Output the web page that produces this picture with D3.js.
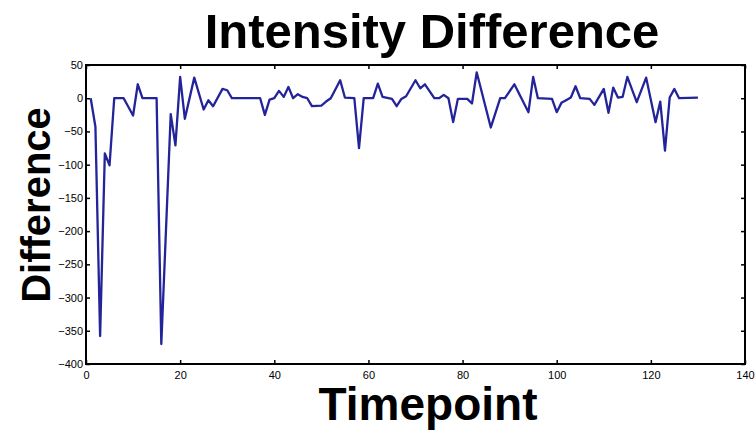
<!DOCTYPE html>
<meta charset="utf-8">
<style>

body {
  margin: 0;
  background: #fff;
  font-family: "Liberation Sans", Arial, Helvetica, sans-serif;
}

.line {
  fill: none;
  stroke: #23239a;
  stroke-width: 2.3px;
  stroke-linejoin: round;
}

.axis text {
  font-family: "Liberation Sans Narrow", "Liberation Sans", Arial, sans-serif;
  font-size: 11px;
  fill: #000;
}

.axis line {
  stroke: #000;
  stroke-width: 1.5px;
}

.axis path {
  display: none;
}

.label {
  font-weight: bold;
  fill: #000;
}

</style>
<body>
<script src="https://d3js.org/d3.v7.min.js"></script>
<script>

var width = 756;

var height = 430;

var margin = {top: 65, right: 11, bottom: 66, left: 86};

var innerWidth = width - margin.left - margin.right;

var innerHeight = height - margin.top - margin.bottom;

// vertices (flat runs only keep their ends)
var timepoints = [1, 2, 3, 4, 5, 6, 8, 10, 11, 12, 15, 16, 18, 19, 20, 21, 23, 25, 26, 27,
  29, 30, 31, 37, 38, 39, 40, 41, 42, 43, 44, 45, 46, 47, 48, 50, 51, 52, 54, 55,
  57, 58, 59, 61, 62, 63, 65, 66, 67, 68, 70, 71, 72, 74, 75, 76, 77, 78, 79, 81,
  82, 83, 86, 88, 89, 91, 94, 95, 96, 99, 100, 101, 102, 103, 104, 105, 107, 108, 110, 111,
  112, 113, 114, 115, 117, 119, 121, 122, 123, 124, 125, 126, 130];

var differences = [0, -43, -358, -83, -101, 0, 0, -26, 21, 0, 0, -370, -24, -71, 32, -31, 31, -17, -3, -12,
  14, 12, 0, 0, -25, -2, 0, 11, 2, 17, 0, 6, 2, 0, -12, -11, -5, 0, 27, 1,
  0, -75, 0, 0, 22, 2, -1, -12, -1, 3, 27, 15, 21, 0, 0, 5, 0, -36, -1, -1,
  -8, 39, -44, 0, 0, 21, -21, 32, 0, -1, -21, -7, -3, 1, 18, 0, -1, -10, 14, -22,
  16, 1, 2, 32, -6, 31, -36, -5, -79, 1, 14, 0, 1];

var xTicks = [0, 20, 40, 60, 80, 100, 120, 140];

var yTicks = [50, 0, -50, -100, -150, -200, -250, -300, -350, -400];

var data = timepoints.map((t, i) => ({t: t, v: differences[i]}));

var xScale = d3.scaleLinear()
    .domain([0, 140])
    .range([0, innerWidth]);

var yScale = d3.scaleLinear()
    .domain([-400, 50])
    .range([innerHeight, 0]);

var line = d3.line()
    .x(d => xScale(d.t))
    .y(d => yScale(d.v));

var svg = d3.select("body").append("svg")
    .attr("width", width)
    .attr("height", height);

var g = svg.append("g")
    .attr("transform", `translate(${margin.left}, ${margin.top})`);

g.append("path")
    .datum(data)
    .attr("class", "line")
    .attr("d", line);

// matplotlib style: ticks point inwards on all four sides
g.append("g")
    .attr("class", "axis")
    .attr("transform", `translate(0, ${innerHeight})`)
    .call(d3.axisBottom(xScale).tickValues(xTicks).tickSize(-4).tickPadding(7));

g.append("g")
    .attr("class", "axis")
    .call(d3.axisTop(xScale).tickValues(xTicks).tickSize(-4).tickFormat(""));

g.append("g")
    .attr("class", "axis")
    .call(d3.axisLeft(yScale).tickValues(yTicks).tickSize(-4).tickPadding(3));

g.append("g")
    .attr("class", "axis")
    .attr("transform", `translate(${innerWidth}, 0)`)
    .call(d3.axisRight(yScale).tickValues(yTicks).tickSize(-4).tickFormat(""));

g.append("rect")
    .attr("width", innerWidth)
    .attr("height", innerHeight)
    .attr("fill", "none")
    .attr("stroke", "#000")
    .attr("stroke-width", 2);

svg.append("text")
    .attr("class", "label")
    .attr("x", 432)
    .attr("y", 48)
    .attr("text-anchor", "middle")
    .style("font-size", "49px")
    .text("Intensity Difference");

svg.append("text")
    .attr("class", "label")
    .attr("x", 428)
    .attr("y", 420)
    .attr("text-anchor", "middle")
    .style("font-size", "46px")
    .text("Timepoint");

svg.append("text")
    .attr("class", "label")
    .attr("transform", "translate(50, 205) rotate(-90)")
    .attr("text-anchor", "middle")
    .style("font-size", "40px")
    .text("Difference");

</script>
